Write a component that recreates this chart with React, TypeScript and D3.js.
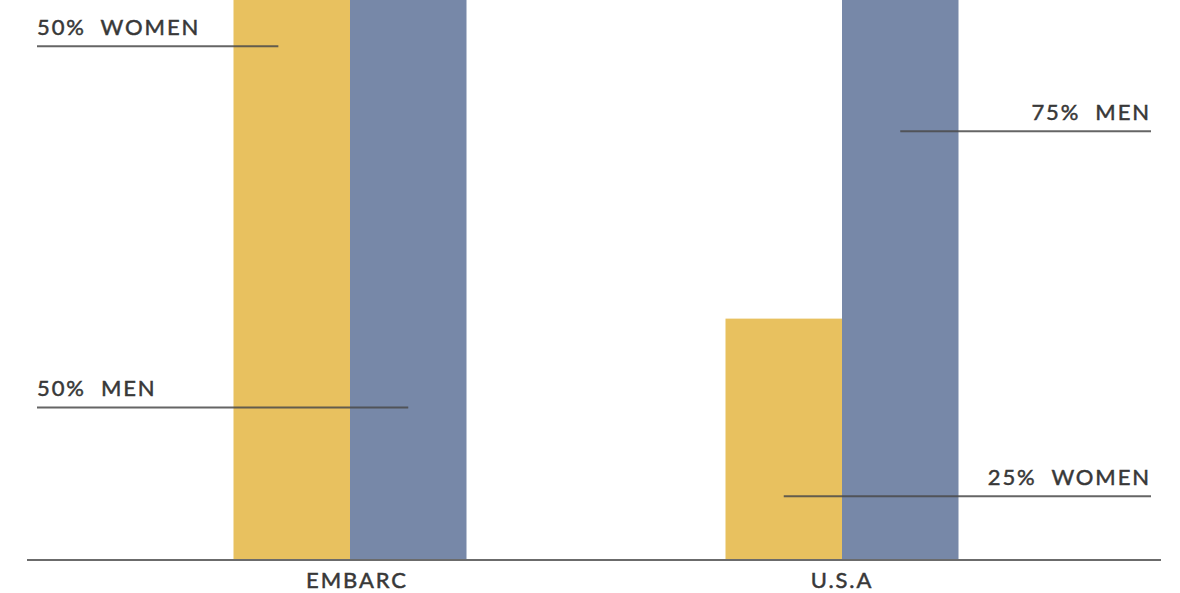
import React from "react";
import * as d3 from "d3";

const categories = ["EMBARC", "U.S.A"];
const series = ["Women", "Men"];
// plotted bar heights (EMBARC bars and U.S.A men run off the top of the picture)
const womenBars = [62, 25];
const menBars = [62, 62];
const colors = ["#E8C15F", "#7788A8"];

// callouts: label, side, y position in chart units, line reach into the bar pair (fraction of bar width)
const calloutLabels = ["50%  WOMEN", "50%  MEN", "75%  MEN", "25%  WOMEN"];
const calloutY = [53.2, 15.8, 44.4, 6.6];
const calloutSide = ["left", "left", "right", "right"];
const calloutReach = [0.385, 1.5, 1.5, 0.5];

const W = 1180;
const H = 593;

export default function App() {
  const baseY = 560;
  const x0 = d3.scalePoint().domain(categories).range([350, 842]);
  const bw = 116.5;
  const xs = d3.scaleBand().domain(series).range([-bw, bw]);
  const y = d3.scaleLinear().domain([0, 58]).range([baseY, 0]);
  const vals = [womenBars, menBars];
  const font = "Lato, 'Open Sans', sans-serif";
  const labelDx = [7, 0];

  return (
    <svg width={W} height={H} style={{ position: "absolute", left: 0, top: 0, background: "#fff" }}>
      <defs>
        <clipPath id="plot">
          <rect x={0} y={0} width={W} height={baseY} />
        </clipPath>
      </defs>
      <g clipPath="url(#plot)">
        {categories.map((c, ci) =>
          series.map((s, si) => {
            const v = vals[si][ci];
            return (
              <rect
                key={c + s}
                x={(x0(c) as number) + (xs(s) as number)}
                y={y(v)}
                width={xs.bandwidth()}
                height={baseY - y(v)}
                fill={colors[si]}
              />
            );
          })
        )}
      </g>
      <line x1={27} x2={1161} y1={baseY} y2={baseY} stroke="#6b6b6b" strokeWidth={2} />
      {categories.map((c, ci) => (
        <text
          key={c}
          x={(x0(c) as number) + labelDx[ci]}
          y={588}
          textAnchor="middle"
          fontFamily={font}
          fontSize={22}
          fontWeight={400}
          letterSpacing={1.9}
          fill="#383838"
          stroke="#383838"
          strokeWidth={0.5}
        >
          {c}
        </text>
      ))}
      {calloutLabels.map((lab, i) => {
        const ly = y(calloutY[i]);
        const left = calloutSide[i] === "left";
        const ci = left ? 0 : 1;
        const cx = x0(categories[ci]) as number;
        let x1: number, x2: number, tx: number;
        if (left) {
          x1 = 37;
          x2 = cx - bw + calloutReach[i] * bw;
          tx = 37;
        } else {
          x1 = cx - bw + calloutReach[i] * bw;
          x2 = 1151;
          tx = 1151;
        }
        return (
          <g key={lab}>
            <text
              x={tx}
              y={ly - 11}
              textAnchor={left ? "start" : "end"}
              fontFamily={font}
              fontSize={22}
              fontWeight={400}
              letterSpacing={1.9}
              fill="#383838"
              stroke="#383838"
              strokeWidth={0.5}
              style={{ whiteSpace: "pre" }}
            >
              {lab}
            </text>
            <line x1={x1} x2={x2} y1={ly} y2={ly} stroke="#4a4a4a" strokeOpacity={0.85} strokeWidth={2} />
          </g>
        );
      })}
    </svg>
  );
}
